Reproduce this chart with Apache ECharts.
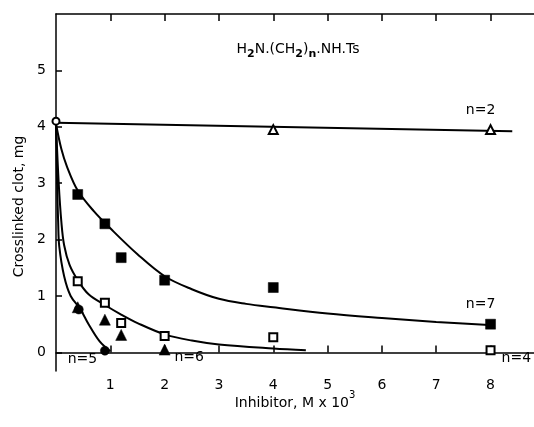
<!DOCTYPE html>
<html>
<head>
<meta charset="utf-8">
<script src="https://cdn.jsdelivr.net/npm/echarts@6/dist/echarts.min.js"></script>
<style>
  html, body { margin: 0; padding: 0; background: #fff; }
  #chart { width: 534px; height: 427px; }
</style>
</head>
<body>
<div id="chart"></div>
<script>
const ctrlPt = [[0, 4.1]];
const n2Pts = [[4, 3.95], [8, 3.95]];
const n7Pts = [[0.4, 2.8], [0.9, 2.28], [1.2, 1.68], [2, 1.28], [4, 1.15], [8, 0.5]];
const n4Pts = [[0.4, 1.26], [0.9, 0.88], [1.2, 0.52], [2, 0.29], [4, 0.27], [8, 0.04]];
const n6Pts = [[0.4, 0.8], [0.9, 0.58], [1.2, 0.31], [2, 0.05]];
const n5Pts = [[0.42, 0.76], [0.9, 0.03]];

// hand-drawn fit curves
const n2Curve = [[0, 4.07], [8.4, 3.92]];
const n7Curve = [[0, 4.05], [0.1, 3.6], [0.2, 3.3], [0.4, 2.87], [0.7, 2.5], [1.0, 2.2], [1.5, 1.74], [2, 1.35], [2.5, 1.12], [3, 0.95], [3.5, 0.86], [4, 0.8], [5, 0.69], [6, 0.61], [7, 0.54], [8.05, 0.48]];
const n4Curve = [[0, 4.05], [0.05, 3.0], [0.1, 2.3], [0.15, 1.9], [0.25, 1.55], [0.4, 1.28], [0.6, 1.03], [0.9, 0.84], [1.2, 0.67], [1.5, 0.52], [2, 0.32], [2.5, 0.21], [3, 0.14], [4, 0.07], [4.6, 0.04]];
const n5Curve = [[0, 4.05], [0.02, 3.0], [0.04, 2.3], [0.06, 1.88], [0.15, 1.35], [0.27, 1.0], [0.44, 0.78], [0.6, 0.5], [0.8, 0.2], [1.0, 0.02]];

const xTicks = [1, 2, 3, 4, 5, 6, 7, 8];
const yTicks = [0, 1, 2, 3, 4, 5];

const FONT = 'DejaVu Sans';
const INK = '#000';

const chart = echarts.init(document.getElementById('chart'));

function curve(data) {
  return {
    type: 'line', data: data, smooth: 0.35,
    showSymbol: false, silent: true,
    lineStyle: { color: INK, width: 2 }, z: 2
  };
}

function pts(data, symbol, size, filled, labels) {
  return {
    type: 'scatter', symbol: symbol, symbolSize: size,
    itemStyle: filled
      ? { color: INK, borderColor: INK, borderWidth: 0.5, opacity: 1 }
      : { color: '#fff', borderColor: INK, borderWidth: 2, opacity: 1 },
    data: data.map(function (p, i) {
      const item = { value: p };
      if (labels && labels[i]) item.label = labels[i];
      return item;
    }),
    z: 5
  };
}

function lbl(text, pos, dist, off) {
  return {
    show: true, formatter: text, position: pos, distance: dist, offset: off,
    color: INK, fontFamily: FONT, fontSize: 14
  };
}

const option = {
  animation: false,
  backgroundColor: '#fff',
  title: {
    text: '{a|H}{s|2}{a|N.(CH}{s|2}{a|)}{s|n}{a|.NH.Ts}',
    left: 298, top: 38, textAlign: 'center', padding: 0,
    textStyle: {
      fontWeight: 'normal',
      rich: {
        a: { fontFamily: FONT, fontSize: 14, fontWeight: 'normal', color: INK, lineHeight: 22, verticalAlign: 'middle' },
        s: { fontFamily: FONT, fontSize: 11, fontWeight: 'bold', color: INK, lineHeight: 22, verticalAlign: 'bottom' }
      }
    }
  },
  grid: { left: 56, right: 0, top: 14, bottom: 56, outerBoundsMode: 'none' },
  xAxis: [{
    type: 'value', min: 0, max: 8.8, position: 'bottom',
    name: '{a|Inhibitor, M x 10}{b|3}',
    nameLocation: 'middle', nameGap: 19, nameMoveOverlap: false,
    nameTextStyle: {
      rich: {
        a: { fontFamily: FONT, fontSize: 14, color: INK, lineHeight: 20, verticalAlign: 'bottom' },
        b: { fontFamily: FONT, fontSize: 10, color: INK, lineHeight: 20, verticalAlign: 'top' }
      }
    },
    splitLine: { show: false },
    axisLine: { lineStyle: { color: INK, width: 1.5 } },
    axisTick: { inside: true, length: 7, customValues: xTicks, lineStyle: { color: INK, width: 1.5 } },
    axisLabel: { customValues: xTicks, margin: 7, color: INK, fontFamily: FONT, fontSize: 14 }
  }, {
    type: 'value', min: 0, max: 8.8, position: 'top',
    splitLine: { show: false },
    axisLine: { lineStyle: { color: INK, width: 1.5 } },
    axisTick: { inside: true, length: 7, customValues: xTicks, lineStyle: { color: INK, width: 1.5 } },
    axisLabel: { show: false }
  }],
  yAxis: {
    type: 'value', min: -0.33, max: 6,
    name: 'Crosslinked clot, mg',
    nameLocation: 'middle', nameGap: 29,
    nameTextStyle: { fontFamily: FONT, fontSize: 14, color: INK, padding: [0, 28, 0, 0] },
    splitLine: { show: false },
    axisLine: { lineStyle: { color: INK, width: 1.5 } },
    axisTick: { inside: true, length: 6, customValues: yTicks, lineStyle: { color: INK, width: 1.5 } },
    axisLabel: { customValues: yTicks, margin: 10, color: INK, fontFamily: FONT, fontSize: 14 }
  },
  series: [
    curve(n2Curve),
    curve(n7Curve),
    curve(n4Curve),
    curve(n5Curve),
    pts(ctrlPt, 'circle', 7, false),
    pts(n2Pts, 'triangle', 9, false, [null, lbl('n=2', 'top', 7, [-10, 0])]),
    pts(n7Pts, 'rect', 10, true, [null, null, null, null, null, lbl('n=7', 'top', 8, [-10, 0])]),
    pts(n4Pts, 'rect', 8, false, [null, null, null, null, null, lbl('n=4', 'right', 6, [0, 8])]),
    pts(n5Pts, 'circle', 9, true, [null, lbl('n=5', 'left', 3, [0, 9])]),
    pts(n6Pts, 'triangle', 11, true, [null, null, null, lbl('n=6', 'right', 4, [0, 8])])
  ]
};

chart.setOption(option);
</script>
</body>
</html>
